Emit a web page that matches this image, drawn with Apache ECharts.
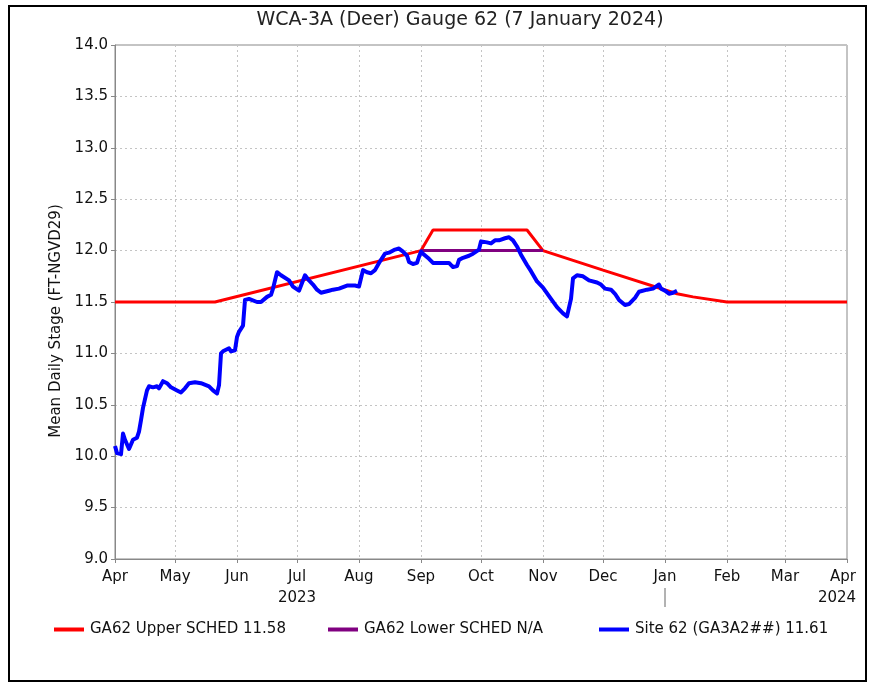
<!DOCTYPE html>
<html>
<head>
<meta charset="utf-8">
<title>WCA-3A (Deer) Gauge 62</title>
<script src="https://cdn.jsdelivr.net/npm/echarts@6/dist/echarts.min.js"></script>
<style>
  html, body { margin: 0; padding: 0; background: #fff; }
  #chart { width: 875px; height: 686px; }
</style>
</head>
<body>
<div id="chart"></div>
<script>
// Axis labels
const monthLabels = ['Jan', 'Feb', 'Mar', 'Apr', 'May', 'Jun', 'Jul', 'Aug', 'Sep', 'Oct', 'Nov', 'Dec'];
const yearLabels = { '2023-07': '2023', '2024-04': '2024' };

// Upper regulation schedule (ft NGVD29)
const upperDates = ['2023-04-01', '2023-05-21', '2023-09-01', '2023-09-07', '2023-10-24', '2023-11-01',
  '2023-12-01', '2024-01-07', '2024-01-15', '2024-02-01', '2024-04-01'];
const upperValues = [11.5, 11.5, 12.0, 12.2, 12.2, 12.0, 11.81, 11.58, 11.55, 11.5, 11.5];

// Lower regulation schedule
const lowerDates = ['2023-09-01', '2023-11-01'];
const lowerValues = [12.0, 12.0];

// Site 62 mean daily stage
const siteDates = [
  '2023-04-01', '2023-04-02', '2023-04-04', '2023-04-05', '2023-04-06', '2023-04-08', '2023-04-10', '2023-04-12',
  '2023-04-13', '2023-04-14', '2023-04-15', '2023-04-16', '2023-04-17', '2023-04-18', '2023-04-20', '2023-04-22',
  '2023-04-23', '2023-04-25', '2023-04-27', '2023-04-29', '2023-05-02', '2023-05-04', '2023-05-06', '2023-05-08',
  '2023-05-11', '2023-05-14', '2023-05-18', '2023-05-20', '2023-05-22', '2023-05-23', '2023-05-24', '2023-05-25',
  '2023-05-28', '2023-05-29', '2023-05-31', '2023-06-01', '2023-06-02', '2023-06-04', '2023-06-05', '2023-06-07',
  '2023-06-11', '2023-06-13', '2023-06-16', '2023-06-18', '2023-06-19', '2023-06-21', '2023-06-23', '2023-06-27',
  '2023-06-29', '2023-07-02', '2023-07-03', '2023-07-05', '2023-07-07', '2023-07-09', '2023-07-11', '2023-07-13',
  '2023-07-17', '2023-07-19', '2023-07-22', '2023-07-26', '2023-07-27', '2023-07-30', '2023-08-01', '2023-08-02',
  '2023-08-03', '2023-08-05', '2023-08-07', '2023-08-09', '2023-08-11', '2023-08-12', '2023-08-14', '2023-08-16',
  '2023-08-17', '2023-08-19', '2023-08-21', '2023-08-23', '2023-08-25', '2023-08-26', '2023-08-28', '2023-08-30',
  '2023-08-31', '2023-09-01', '2023-09-02', '2023-09-05', '2023-09-07', '2023-09-10', '2023-09-12', '2023-09-15',
  '2023-09-17', '2023-09-19', '2023-09-20', '2023-09-22', '2023-09-25', '2023-09-27', '2023-09-30', '2023-10-01',
  '2023-10-02', '2023-10-04', '2023-10-06', '2023-10-08', '2023-10-10', '2023-10-13', '2023-10-15', '2023-10-17',
  '2023-10-19', '2023-10-21', '2023-10-24', '2023-10-26', '2023-10-29', '2023-11-01', '2023-11-05', '2023-11-08',
  '2023-11-11', '2023-11-13', '2023-11-14', '2023-11-15', '2023-11-16', '2023-11-18', '2023-11-21', '2023-11-24',
  '2023-11-28', '2023-11-30', '2023-12-02', '2023-12-05', '2023-12-07', '2023-12-09', '2023-12-12', '2023-12-14',
  '2023-12-17', '2023-12-19', '2023-12-23', '2023-12-26', '2023-12-29', '2023-12-30', '2024-01-01', '2024-01-03',
  '2024-01-05', '2024-01-07'
];
const siteValues = [
  10.10, 10.03, 10.02, 10.22, 10.16, 10.07, 10.16, 10.18,
  10.24, 10.35, 10.47, 10.48, 10.64, 10.68, 10.67, 10.68,
  10.66, 10.73, 10.71, 10.67, 10.64, 10.62, 10.66, 10.71,
  10.72, 10.71, 10.68, 10.64, 10.61, 10.69, 11.00, 11.02,
  11.05, 11.02, 11.03, 11.16, 11.21, 11.27, 11.52, 11.53,
  11.50, 11.50, 11.55, 11.57, 11.63, 11.79, 11.76, 11.71,
  11.65, 11.61, 11.62, 11.76, 11.71, 11.67, 11.62, 11.59,
  11.61, 11.62, 11.63, 11.66, 11.67, 11.66, 11.65, 11.73,
  11.81, 11.79, 11.78, 11.81, 11.88, 11.91, 11.97, 11.98,
  11.97, 12.01, 12.02, 11.99, 11.95, 11.89, 11.87, 11.88,
  11.94, 11.99, 11.97, 11.92, 11.88, 11.88, 11.88, 11.88,
  11.84, 11.85, 11.91, 11.93, 11.95, 11.97, 12.01, 12.09,
  12.10, 12.08, 12.07, 12.10, 12.10, 12.12, 12.13, 12.10,
  12.04, 11.96, 11.86, 11.80, 11.70, 11.64, 11.53, 11.45,
  11.39, 11.36, 11.37, 11.53, 11.73, 11.76, 11.75, 11.71,
  11.69, 11.67, 11.63, 11.62, 11.58, 11.52, 11.47, 11.48,
  11.54, 11.60, 11.62, 11.63, 11.67, 11.63, 11.61, 11.58,
  11.59, 11.61
];

const reportDate = '2024-01-07';
const upperNow = upperValues[upperDates.indexOf(reportDate)];
const siteNow = siteValues[siteValues.length - 1];

const upperName = 'GA62 Upper SCHED ' + upperNow.toFixed(2);
const lowerName = 'GA62 Lower SCHED N/A';
const siteName = 'Site 62 (GA3A2##) ' + siteNow.toFixed(2);

const pair = (dates, vals) => dates.map((d, i) => [d, vals[i]]);

const FONT = 'DejaVu Sans';
const chart = echarts.init(document.getElementById('chart'), null, { renderer: 'canvas' });

const legendBase = {
  top: 617,
  icon: 'rect',
  itemWidth: 30,
  itemHeight: 4,
  textStyle: { fontFamily: FONT, fontSize: 15, color: '#111', padding: [0, 0, 0, 1] },
  selectedMode: false
};

const lastTick = new Date(2024, 3, 1).getTime();

const option = {
  backgroundColor: '#fff',
  animation: false,
  title: {
    text: 'WCA-3A (Deer) Gauge 62 (7 January 2024)',
    left: 455,
    top: 6,
    textAlign: 'center',
    textStyle: { fontFamily: FONT, fontSize: 19, fontWeight: 'normal', color: '#222' }
  },
  legend: [
    Object.assign({}, legendBase, { left: 49, data: [upperName] }),
    Object.assign({}, legendBase, { left: 323, data: [lowerName] }),
    Object.assign({}, legendBase, { left: 594, data: [siteName] })
  ],
  grid: {
    left: 115, right: 28, top: 45, bottom: 127,
    outerBoundsMode: 'none',
    containLabel: false,
    show: true, borderColor: '#888', borderWidth: 1, backgroundColor: '#fff'
  },
  xAxis: {
    type: 'time',
    min: '2023-04-01',
    max: '2024-04-01',
    splitNumber: 12,
    minInterval: 28 * 86400000,
    maxInterval: 31 * 86400000,
    axisLine: { lineStyle: { color: '#888' } },
    axisTick: { show: true, length: 4, lineStyle: { color: '#888' } },
    splitLine: { show: true, lineStyle: { color: '#c4c4c4', type: [2, 3], width: 1 } },
    axisLabel: {
      fontFamily: FONT, fontSize: 15, color: '#111', margin: 8, lineHeight: 21,
      showMinLabel: true, showMaxLabel: true, hideOverlap: false,
      rich: {
        endM: { fontFamily: FONT, fontSize: 15, color: '#111', lineHeight: 21, padding: [0, 8, 0, 0] },
        endY: { fontFamily: FONT, fontSize: 15, color: '#111', lineHeight: 21, padding: [0, 20, 0, 0] }
      },
      formatter: function (value) {
        const d = new Date(value);
        const key = d.getFullYear() + '-' + String(d.getMonth() + 1).padStart(2, '0');
        const m = monthLabels[d.getMonth()];
        if (value >= lastTick) {
          return '{endM|' + m + '}\n{endY|' + yearLabels[key] + '}';
        }
        return yearLabels[key] ? m + '\n' + yearLabels[key] : m;
      }
    }
  },
  yAxis: {
    type: 'value',
    min: 9,
    max: 14,
    interval: 0.5,
    name: 'Mean Daily Stage (FT-NGVD29)',
    nameLocation: 'middle',
    nameGap: 50,
    nameTextStyle: { fontFamily: FONT, fontSize: 15, color: '#111', padding: [0, 38, 0, 0] },
    axisLine: { show: true, lineStyle: { color: '#888' } },
    axisTick: { show: true, length: 4, lineStyle: { color: '#888' } },
    splitLine: { show: true, lineStyle: { color: '#c4c4c4', type: [2, 3], width: 1 } },
    axisLabel: {
      fontFamily: FONT, fontSize: 15, color: '#111', margin: 7,
      formatter: v => v.toFixed(1)
    }
  },
  series: [
    {
      name: upperName, type: 'line', data: pair(upperDates, upperValues),
      showSymbol: false, symbol: 'none', z: 2,
      lineStyle: { color: '#ff0000', width: 3 }, itemStyle: { color: '#ff0000' }
    },
    {
      name: lowerName, type: 'line', data: pair(lowerDates, lowerValues),
      showSymbol: false, symbol: 'none', z: 3,
      lineStyle: { color: '#800080', width: 3 }, itemStyle: { color: '#800080' }
    },
    {
      name: siteName, type: 'line', data: pair(siteDates, siteValues),
      showSymbol: false, symbol: 'none', z: 4,
      lineStyle: { color: '#0000ff', width: 4, join: 'round' }, itemStyle: { color: '#0000ff' }
    }
  ]
};

chart.setOption(option);

// Outer frame and the year-change marker under the January tick
const janX = chart.convertToPixel({ xAxisIndex: 0 }, '2024-01-01');
const axisY = chart.convertToPixel({ yAxisIndex: 0 }, 9);
chart.setOption({
  graphic: [
    {
      type: 'rect', z: 100, silent: true,
      shape: { x: 9, y: 6, width: 857, height: 675 },
      style: { fill: 'none', stroke: '#000', lineWidth: 2 }
    },
    {
      type: 'line', z: 100, silent: true,
      shape: { x1: janX, y1: axisY + 29, x2: janX, y2: axisY + 48 },
      style: { stroke: '#666', lineWidth: 1 }
    }
  ]
});
</script>
</body>
</html>
